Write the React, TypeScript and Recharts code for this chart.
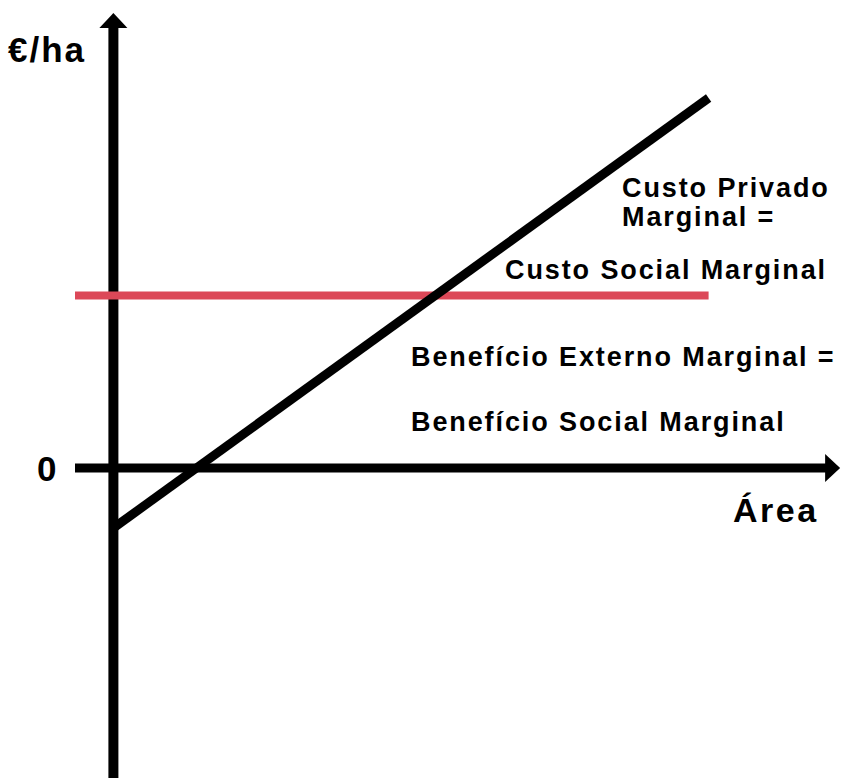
import { ComposedChart, Line, XAxis, YAxis, ReferenceLine, ReferenceDot } from "recharts";

// curve points (x = area, y = €/ha)
const custoPrivado = [
  { x: 0, y: -12 },
  { x: 62, y: 74 },
];
const custoSocial = [
  { x: -4, y: 34.5 },
  { x: 62, y: 34.5 },
];

const X_DOMAIN = [-4, 76];
const Y_DOMAIN = [-62, 91];

const RED = "#dc4858";
const FONT = "'Liberation Sans', Arial, Helvetica, sans-serif";

const labels = [
  { text: "€/ha", x: 8, y: 62, size: 35, spacing: 2 },
  { text: "0", x: 37, y: 481, size: 35, spacing: 0 },
  { text: "Área", x: 733, y: 522, size: 34, spacing: 2.5 },
  { text: "Custo Privado", x: 622, y: 197, size: 27, spacing: 1.9 },
  { text: "Marginal =", x: 622, y: 226, size: 27, spacing: 1.9 },
  { text: "Custo Social Marginal", x: 505, y: 279, size: 27, spacing: 1.9 },
  { text: "Benefício Externo Marginal =", x: 411, y: 366, size: 27, spacing: 1.9 },
  { text: "Benefício Social Marginal", x: 411, y: 431, size: 27, spacing: 1.9 },
];

const UpArrow = (props: any) => {
  const { cx, cy } = props;
  return <polygon points={`${cx},${cy} ${cx - 14},${cy + 15} ${cx + 14},${cy + 15}`} fill="#000" />;
};

const RightArrow = (props: any) => {
  const { cx, cy } = props;
  return <polygon points={`${cx},${cy} ${cx - 15},${cy - 14} ${cx - 15},${cy + 14}`} fill="#000" />;
};

export default function App() {
  return (
    <div style={{ position: "absolute", left: 0, top: 0, width: 843, height: 778, background: "#fff" }}>
      <ComposedChart width={843} height={778} margin={{ top: 13, right: 0, bottom: 0, left: 75 }}>
        <XAxis type="number" dataKey="x" domain={X_DOMAIN} hide />
        <YAxis type="number" dataKey="y" domain={Y_DOMAIN} hide />
        <ReferenceLine
          segment={[
            { x: 0, y: 89 },
            { x: 0, y: -62 },
          ]}
          stroke="#000"
          strokeWidth={10}
        />
        <ReferenceDot x={0} y={91} r={1} shape={UpArrow} />
        <ReferenceLine
          segment={[
            { x: -4, y: 0 },
            { x: 74.6, y: 0 },
          ]}
          stroke="#000"
          strokeWidth={9}
        />
        <ReferenceDot x={75.7} y={0} r={1} shape={RightArrow} />
        <Line
          data={custoSocial}
          dataKey="y"
          type="linear"
          stroke={RED}
          strokeWidth={8}
          dot={false}
          isAnimationActive={false}
        />
        <Line
          data={custoPrivado}
          dataKey="y"
          type="linear"
          stroke="#000"
          strokeWidth={9}
          dot={false}
          isAnimationActive={false}
        />
      </ComposedChart>
      <svg width={843} height={778} style={{ position: "absolute", left: 0, top: 0, pointerEvents: "none" }}>
        {labels.map((l) => (
          <text
            key={l.text}
            x={l.x}
            y={l.y}
            fontFamily={FONT}
            fontWeight="bold"
            fontSize={l.size}
            letterSpacing={l.spacing}
            fill="#000"
          >
            {l.text}
          </text>
        ))}
      </svg>
    </div>
  );
}
